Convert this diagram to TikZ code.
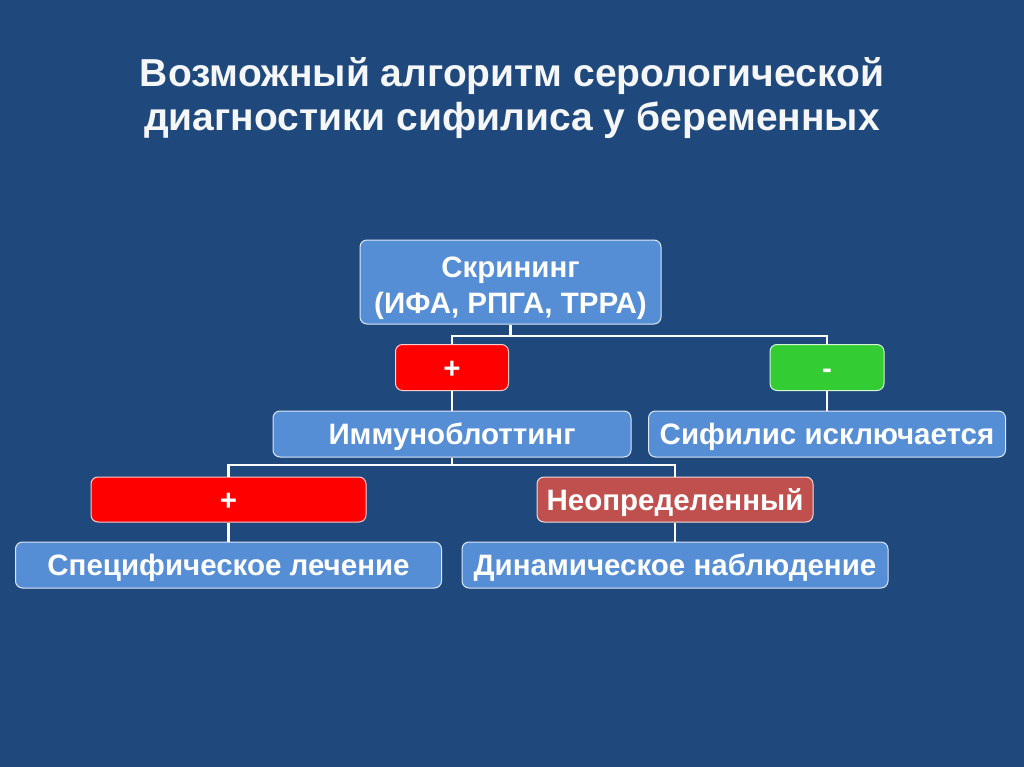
\documentclass[tikz,border=0pt]{standalone}
\usepackage{fontspec}
\setmainfont{Liberation Sans}
\definecolor{bg}{HTML}{1F487C}
\definecolor{boxblue}{HTML}{558ED5}
\definecolor{plusred}{HTML}{FF0000}
\definecolor{minusgreen}{HTML}{33CC33}
\definecolor{darkred}{HTML}{C0504D}
\begin{document}
\begin{tikzpicture}[x=1pt,y=-1pt,
  box/.style={draw=white!80!boxblue, line width=1pt, rounded corners=7pt, fill=boxblue, text=white, font=\bfseries\fontsize{29.5}{36}\selectfont, align=center, inner sep=0pt, text height=21pt, text depth=0pt},
  conn/.style={draw=white, line width=2.8pt}]
\fill[bg] (0,0) rectangle (1024,767);
\useasboundingbox (0,0) rectangle (1024,767);
\node[text=white!95!bg, font=\bfseries\fontsize{39}{44}\selectfont, align=center, inner sep=0pt, text height=72pt, text depth=0pt] (title) at (512,95) {Возможный алгоритм серологической\\диагностики сифилиса у беременных};
% boxes
\node[box, minimum width=301pt, minimum height=84pt, text height=62pt] (scr) at (510.5,282) {Скрининг\\(ИФА, РПГА, ТРРА)};
\node[box, fill=plusred, draw=white!80!plusred, minimum width=113pt, minimum height=46pt] (p1) at (452,367.5) {+};
\node[box, fill=minusgreen, draw=white!80!minusgreen, minimum width=114pt, minimum height=46pt] (m1) at (827,367.5) {-};
\node[box, minimum width=358pt, minimum height=46pt] (imm) at (452,434) {Иммуноблоттинг};
\node[box, minimum width=357pt, minimum height=46pt] (exc) at (827,434) {Сифилис исключается};
\node[box, fill=plusred, draw=white!80!plusred, minimum width=275pt, minimum height=45pt] (p2) at (228.5,499.5) {+};
\node[box, fill=darkred, draw=white!80!darkred, minimum width=276pt, minimum height=45pt] (und) at (675,499.5) {Неопределенный};
\node[box, minimum width=426pt, minimum height=46pt] (spec) at (228.5,565) {Специфическое лечение};
\node[box, minimum width=426pt, minimum height=46pt] (dyn) at (675,565) {Динамическое наблюдение};
% connectors
\coordinate (j1) at (510.5,336);
\coordinate (j2) at (452,465);
\draw[conn] (scr.south) -- (j1);
\draw[conn] (p1.north) |- (j1) -| (m1.north);
\draw[conn] (p1.south) -- (imm.north);
\draw[conn] (m1.south) -- (exc.north);
\draw[conn] (imm.south) -- (j2);
\draw[conn] (p2.north) |- (j2) -| (und.north);
\draw[conn] (p2.south) -- (spec.north);
\draw[conn] (und.south) -- (dyn.north);
\end{tikzpicture}
\end{document}
